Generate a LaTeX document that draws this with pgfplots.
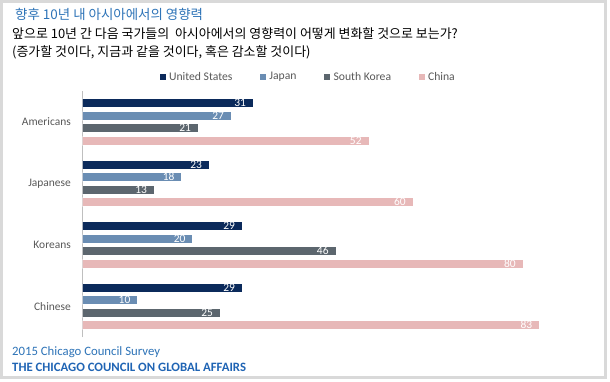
\documentclass[border=0pt]{standalone}
\usepackage{pgfplots}
\pgfplotsset{compat=1.18}
\usepackage{fontspec}
\setmainfont{Carlito}
\newfontfamily\kr{Noto Sans CJK KR}
\definecolor{cUS}{HTML}{0B2A5B}
\definecolor{cJP}{HTML}{6A8DB3}
\definecolor{cSK}{HTML}{5C666E}
\definecolor{cCN}{HTML}{E7B8B8}
\definecolor{labgray}{HTML}{595959}
\definecolor{tblue}{HTML}{2E74B8}
\definecolor{fblue}{HTML}{1F64B4}
\begin{document}
\begin{tikzpicture}[x=1bp,y=1bp]
\useasboundingbox (0,0) rectangle (610,381);
\fill[white] (0,0) rectangle (610,381);
\draw[black!15, line width=2.5bp] (1.5,3.5) rectangle (605.5,379.5);
\node[anchor=base west, inner sep=0, text=tblue] at (15,362) {\kr\fontsize{13.5}{16}\selectfont 향후 10년 내 아시아에서의 영향력};
\node[anchor=base west, inner sep=0, text=black] at (12,342.5) {\kr\fontsize{13}{15}\selectfont 앞으로 10년 간 다음 국가들의 \ 아시아에서의 영향력이 어떻게 변화할 것으로 보는가?};
\node[anchor=base west, inner sep=0, text=black] at (12,325) {\kr\fontsize{13}{15}\selectfont (증가할 것이다, 지금과 같을 것이다, 혹은 감소할 것이다)};
\node[anchor=base west, inner sep=0, text=tblue] at (12,26) {\fontsize{12.8}{15}\selectfont 2015 Chicago Council Survey};
\node[anchor=base west, inner sep=0, text=fblue] at (12,10) {\fontsize{12.8}{15}\selectfont\bfseries THE CHICAGO COUNCIL ON GLOBAL AFFAIRS};
\begin{axis}[
  at={(82.5bp,44bp)}, anchor=south west,
  scale only axis, width=495.5bp, height=246bp,
  xmin=0, xmax=90, ymin=-0.5, ymax=3.5,
  xbar, bar width=9bp,
  hide x axis,
  axis y line=left,
  y axis line style={-, draw=black!25},
  ytick={0,1,2,3},
  yticklabels={Chinese,Koreans,Japanese,Americans},
  major tick length=0pt,
  yticklabel style={font=\fontsize{11.5}{13}\selectfont, text=labgray, inner sep=0pt, xshift=-11.5bp},
  /pgf/number format/assume math mode=true,
  nodes near coords,
  nodes near coords align={left},
  every node near coord/.append style={text=white, font=\fontsize{11.5}{13}\selectfont, inner sep=0pt, anchor=east, xshift=-7bp},
  legend columns=4,
  legend style={at={(0.455,1.057)}, anchor=center, draw=none, fill=none,
    font=\fontsize{11.7}{13}\selectfont, text=labgray,
    nodes={inner sep=1.5bp},
    /tikz/every odd column/.append style={column sep=2bp},
    /tikz/every even column/.append style={column sep=26bp}},
  legend image code/.code={\fill[#1, draw=none] (0bp,-3bp) rectangle (6bp,3bp);},
]
\addplot[fill=cUS, draw=white, line width=0.4bp, bar shift=18.75bp] coordinates {(31,3) (23,2) (29,1) (29,0)};
\addplot[fill=cJP, draw=white, line width=0.4bp, bar shift=6.25bp] coordinates {(27,3) (18,2) (20,1) (10,0)};
\addplot[fill=cSK, draw=white, line width=0.4bp, bar shift=-6.25bp] coordinates {(21,3) (13,2) (46,1) (25,0)};
\addplot[fill=cCN, draw=white, line width=0.4bp, bar shift=-18.75bp] coordinates {(52,3) (60,2) (80,1) (83,0)};
\legend{United States, Japan, South Korea, China}
\end{axis}
\end{tikzpicture}
\end{document}
